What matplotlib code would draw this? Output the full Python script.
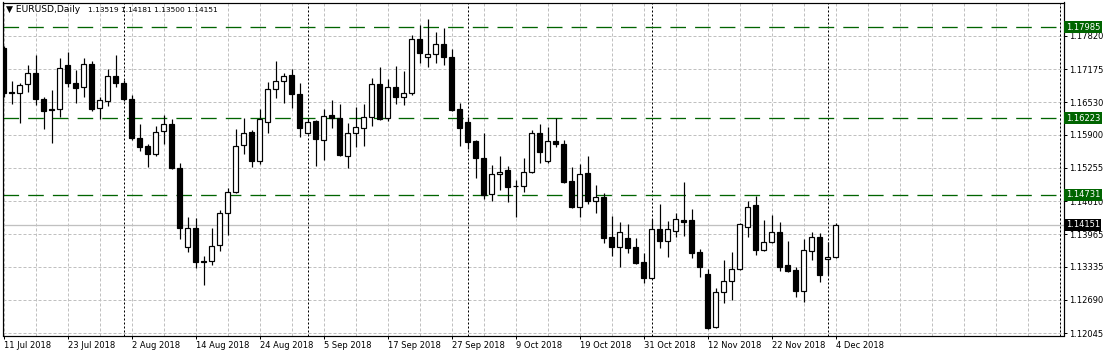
import numpy as np
import pandas as pd
import matplotlib
matplotlib.use("Agg")
import matplotlib.pyplot as plt


SYMBOL = "EURUSD,Daily"
FIRST_DAY = "2018-07-11"
LAST_DAY = "2018-12-04"

opens = [
    1.17587, 1.16725, 1.16712, 1.16887, 1.17101, 1.16595, 1.16391, 1.16401, 1.17256, 1.16906,
    1.16828, 1.17276, 1.16420, 1.16556, 1.17042, 1.16906, 1.16595, 1.15837, 1.15681, 1.15526,
    1.15973, 1.16109, 1.15253, 1.13717, 1.14087, 1.13436, 1.13445, 1.13756, 1.14378, 1.14787,
    1.15701, 1.15953, 1.15390, 1.16148, 1.16789, 1.16945, 1.17062, 1.16692, 1.15934, 1.16167,
    1.15798, 1.16284, 1.16226, 1.15487, 1.15934, 1.16031, 1.16245, 1.16887, 1.16226, 1.16828,
    1.16634, 1.16712, 1.17762, 1.17412, 1.17470, 1.17664, 1.17412, 1.16401, 1.16148, 1.15778,
    1.15448, 1.14748, 1.15137, 1.15215, 1.14913, 1.14903, 1.15176, 1.15934, 1.15390, 1.15778,
    1.15720, 1.15001, 1.14495, 1.15156, 1.14612, 1.14690, 1.13912, 1.13717, 1.13892, 1.13717,
    1.13426, 1.13115, 1.14067, 1.13834, 1.14028, 1.14242, 1.14242, 1.13620, 1.13192, 1.12162,
    1.12842, 1.13056, 1.13290, 1.14106, 1.14534, 1.13659, 1.13815, 1.14009, 1.13367, 1.13270,
    1.12862, 1.13640, 1.13912, 1.13484, 1.13519,
]
highs = [
    1.17620, 1.16945, 1.16906, 1.17256, 1.17451, 1.16634, 1.16770, 1.17392, 1.17509, 1.17159,
    1.17392, 1.17334, 1.16634, 1.17178, 1.17451, 1.16964, 1.16673, 1.16109, 1.15720, 1.16070,
    1.16284, 1.16206, 1.15351, 1.14301, 1.14281, 1.13542, 1.14087, 1.14437, 1.14865, 1.16012,
    1.16226, 1.15992, 1.16401, 1.16926, 1.17334, 1.17101, 1.17178, 1.16906, 1.16226, 1.16187,
    1.16401, 1.16576, 1.16498, 1.16128, 1.16439, 1.16498, 1.17003, 1.17217, 1.16984, 1.17237,
    1.17139, 1.17839, 1.18034, 1.18151, 1.17898, 1.17976, 1.17567, 1.16517, 1.16245, 1.15798,
    1.15934, 1.15312, 1.15487, 1.15292, 1.15020, 1.15448, 1.15992, 1.16109, 1.16051, 1.16226,
    1.15798, 1.15273, 1.15331, 1.15487, 1.14923, 1.14767, 1.14320, 1.14203, 1.14165, 1.13892,
    1.13601, 1.14262, 1.14553, 1.14223, 1.14378, 1.14981, 1.14456, 1.13678, 1.13290, 1.12920,
    1.13465, 1.13620, 1.14184, 1.14612, 1.14709, 1.14242, 1.14340, 1.14203, 1.13834, 1.13328,
    1.13873, 1.14009, 1.13989, 1.13815, 1.14181,
]
lows = [
    1.16634, 1.16498, 1.16128, 1.16731, 1.16478, 1.16012, 1.15740, 1.16245, 1.16828, 1.16517,
    1.16634, 1.16362, 1.16206, 1.16459, 1.16828, 1.16556, 1.15798, 1.15584, 1.15273, 1.15487,
    1.15720, 1.15234, 1.13873, 1.13620, 1.13309, 1.12978, 1.13367, 1.13640, 1.13951, 1.14767,
    1.15526, 1.15273, 1.15331, 1.15934, 1.16614, 1.16517, 1.16420, 1.15856, 1.15915, 1.15292,
    1.15409, 1.16031, 1.15487, 1.15253, 1.15662, 1.15681, 1.16070, 1.16187, 1.16167, 1.16498,
    1.16478, 1.16673, 1.17295, 1.17217, 1.17295, 1.17256, 1.16362, 1.15681, 1.15623, 1.15059,
    1.14651, 1.14612, 1.14826, 1.14592, 1.14301, 1.14787, 1.15156, 1.15351, 1.15351, 1.15662,
    1.14962, 1.14476, 1.14301, 1.14553, 1.14378, 1.13795, 1.13542, 1.13328, 1.13601, 1.13387,
    1.13017, 1.13095, 1.13698, 1.13523, 1.13912, 1.13931, 1.13503, 1.13134, 1.12130, 1.12142,
    1.12628, 1.12687, 1.13270, 1.13912, 1.13562, 1.13640, 1.13795, 1.13251, 1.13231, 1.12745,
    1.12648, 1.13465, 1.13037, 1.13173, 1.13500,
]
closes = [
    1.16712, 1.16712, 1.16867, 1.17101, 1.16595, 1.16362, 1.16381, 1.17198, 1.16906, 1.16809,
    1.17276, 1.16401, 1.16576, 1.17042, 1.16906, 1.16595, 1.15837, 1.15662, 1.15526, 1.15953,
    1.16109, 1.15253, 1.14087, 1.14087, 1.13426, 1.13426, 1.13737, 1.14378, 1.14787, 1.15681,
    1.15934, 1.15390, 1.16206, 1.16789, 1.16945, 1.17042, 1.16692, 1.16031, 1.16148, 1.15817,
    1.16264, 1.16226, 1.15506, 1.15934, 1.16051, 1.16245, 1.16887, 1.16206, 1.16828, 1.16634,
    1.16712, 1.17762, 1.17489, 1.17470, 1.17664, 1.17412, 1.16381, 1.16031, 1.15759, 1.15448,
    1.14728, 1.15137, 1.15176, 1.14884, 1.14903, 1.15176, 1.15934, 1.15565, 1.15778, 1.15720,
    1.14981, 1.14495, 1.15137, 1.14612, 1.14690, 1.13892, 1.13717, 1.14009, 1.13698, 1.13406,
    1.13115, 1.14067, 1.13834, 1.14067, 1.14262, 1.14203, 1.13601, 1.13328, 1.12142, 1.12842,
    1.13056, 1.13290, 1.14165, 1.14495, 1.13659, 1.13815, 1.14009, 1.13328, 1.13251, 1.12862,
    1.13659, 1.13912, 1.13173, 1.13523, 1.14151,
]

level_lines = [1.17985, 1.16223, 1.14731]
bid_price = 1.14151
price_ticks = [1.17820, 1.17175, 1.16530, 1.15900, 1.15255,
               1.14610, 1.13965, 1.13335, 1.12690, 1.12045]
price_range = (1.11997, 1.18471)
bar_range = (-0.125, 132.56)
shift_bar = 132

W, H = 1107, 357
GREEN = "#006400"
GRID = "#c0c0c0"
PX = 0.72  # one pixel in points at dpi 100


def main() -> None:
    dates = pd.bdate_range(FIRST_DAY, LAST_DAY)
    o = np.array(opens)
    h = np.array(highs)
    lo = np.array(lows)
    c = np.array(closes)
    x = np.arange(len(o))

    plt.rcParams["font.family"] = ["DejaVu Sans"]
    fig = plt.figure(figsize=(W / 100, H / 100), dpi=100)
    ax = fig.add_axes([2.5 / W, (H - 335.5) / H, (1064 - 2.5) / W, 333 / H])
    ax.set_xlim(*bar_range)
    ax.set_ylim(*price_range)

    # grid
    for t in price_ticks:
        ax.axhline(t, color=GRID, lw=PX, ls=(0, (3, 2)), zorder=1)
    for gx in range(0, int(bar_range[1]) + 1, 4):
        ax.axvline(gx, color=GRID, lw=PX, ls=(0, (3, 2)), zorder=1)

    # month separators
    seps = [i for i in range(1, len(dates)) if dates[i].month != dates[i - 1].month]
    for sx in seps + [shift_bar]:
        ax.axvline(sx, color="black", lw=PX, ls=(0, (2, 2)), zorder=2)

    # level lines and bid
    for lv in level_lines:
        ax.axhline(lv, color=GREEN, lw=PX * 1.3, ls=(0, (12, 7)), zorder=2)
    ax.axhline(bid_price, color=GRID, lw=PX * 1.3, zorder=2)

    # candles
    up = c >= o
    body_low = np.minimum(o, c)
    body_h = np.abs(c - o)
    ax.vlines(x, lo, h, color="black", lw=PX * 1.2, zorder=3)
    ax.bar(x[up], body_h[up], bottom=body_low[up], width=0.62,
           facecolor="white", edgecolor="black", linewidth=PX * 1.2, zorder=4)
    ax.bar(x[~up], body_h[~up], bottom=body_low[~up], width=0.62,
           facecolor="black", edgecolor="black", linewidth=PX * 1.2, zorder=4)

    # axes styling
    for sp in ax.spines.values():
        sp.set_linewidth(PX * 1.2)
        sp.set_color("black")
    ax.yaxis.tick_right()
    ax.set_yticks(price_ticks)
    ax.set_yticklabels([f"{t:.5f}" for t in price_ticks])
    label_idx = list(range(0, len(dates), 8))
    ax.set_xticks(label_idx)
    ax.set_xticklabels([f"{dates[i].day} {dates[i]:%b %Y}" for i in label_idx], ha="left")
    ax.tick_params(axis="both", length=3 * PX, width=PX, labelsize=6, colors="black")
    ax.tick_params(axis="x", pad=2)
    ax.tick_params(axis="y", pad=1.5)

    # price labels on the right axis
    for lv in level_lines:
        ax.text(1.0017, lv, f"{lv:.5f}", transform=ax.get_yaxis_transform(),
                ha="left", va="center", fontsize=6, color="white", zorder=10, clip_on=False,
                bbox=dict(boxstyle="square,pad=0.18", fc=GREEN, ec="none"))
    ax.text(1.0017, bid_price, f"{bid_price:.5f}", transform=ax.get_yaxis_transform(),
            ha="left", va="center", fontsize=6, color="white", zorder=10, clip_on=False,
            bbox=dict(boxstyle="square,pad=0.18", fc="black", ec="none"))

    # header
    fig.text(6 / W, 1 - 10 / H, "\u25bc " + SYMBOL, fontsize=6.6, va="center", ha="left")
    fig.text(88 / W, 1 - 10 / H,
             f"{opens[-1]:.5f} {highs[-1]:.5f} {lows[-1]:.5f} {closes[-1]:.5f}",
             fontsize=5.4, va="center", ha="left")

    fig.savefig("out.png", dpi=100)


if __name__ == "__main__":
    main()
